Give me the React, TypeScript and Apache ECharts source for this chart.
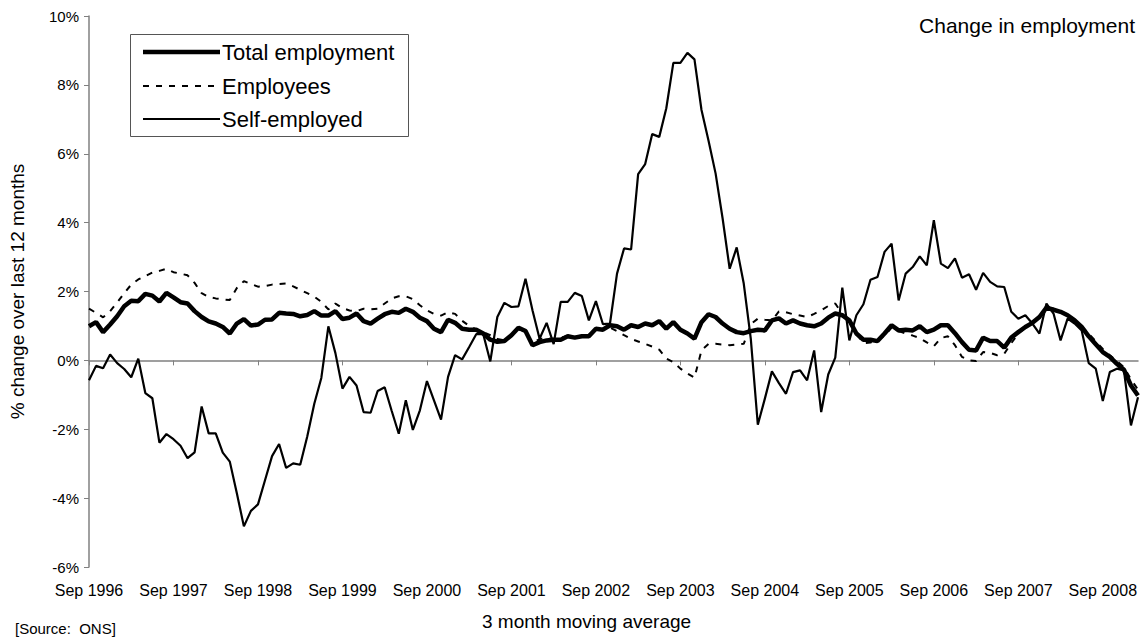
import React, { useEffect, useRef } from "react";
import * as echarts from "echarts";

const MONTHS = ["Jan", "Feb", "Mar", "Apr", "May", "Jun", "Jul", "Aug", "Sep", "Oct", "Nov", "Dec"];
const START_YEAR = 1996;
const START_MONTH = 8; // Sep
const N_POINTS = 150; // Sep 1996 .. Feb 2009

const categories: string[] = [];
for (let k = 0; k < N_POINTS; k++) {
  const m = (START_MONTH + k) % 12;
  const y = START_YEAR + Math.floor((START_MONTH + k) / 12);
  categories.push(`${MONTHS[m]} ${y}`);
}

const seriesNames = ["Total employment", "Employees", "Self-employed"];

const totalEmployment = [
  0.99, 1.11, 0.82, 1.04, 1.28, 1.57, 1.73, 1.72, 1.93, 1.88,
  1.71, 1.96, 1.83, 1.69, 1.65, 1.43, 1.26, 1.13, 1.07, 0.97,
  0.78, 1.07, 1.20, 1.01, 1.04, 1.18, 1.19, 1.38, 1.36, 1.35,
  1.28, 1.32, 1.43, 1.30, 1.30, 1.43, 1.20, 1.24, 1.36, 1.14,
  1.07, 1.21, 1.34, 1.41, 1.38, 1.50, 1.41, 1.24, 1.14, 0.92,
  0.82, 1.18, 1.09, 0.92, 0.89, 0.89, 0.78, 0.60, 0.54, 0.56,
  0.73, 0.95, 0.85, 0.44, 0.53, 0.58, 0.60, 0.60, 0.70, 0.66,
  0.70, 0.70, 0.92, 0.89, 1.02, 0.99, 0.89, 1.02, 0.97, 1.07,
  1.02, 1.14, 0.92, 1.11, 0.89, 0.78, 0.63, 1.11, 1.34, 1.26,
  1.07, 0.92, 0.82, 0.79, 0.85, 0.89, 0.87, 1.16, 1.22, 1.07,
  1.16, 1.07, 1.02, 0.99, 1.07, 1.24, 1.36, 1.31, 1.16, 0.78,
  0.60, 0.60, 0.56, 0.78, 1.02, 0.87, 0.89, 0.87, 0.99, 0.82,
  0.89, 1.02, 1.02, 0.79, 0.53, 0.31, 0.29, 0.66, 0.56, 0.56,
  0.37, 0.66, 0.82, 0.97, 1.09, 1.26, 1.53, 1.47, 1.41, 1.31,
  1.16, 0.97, 0.70, 0.47, 0.24, 0.10, -0.10, -0.27, -0.73, -1.02,
];

const employees = [
  1.50, 1.38, 1.25, 1.43, 1.68, 1.95, 2.20, 2.35, 2.45, 2.55,
  2.60, 2.66, 2.56, 2.52, 2.47, 2.25, 1.95, 1.84, 1.80, 1.77,
  1.75, 2.10, 2.30, 2.22, 2.14, 2.16, 2.20, 2.22, 2.23, 2.15,
  2.05, 1.95, 1.85, 1.70, 1.48, 1.65, 1.52, 1.45, 1.43, 1.50,
  1.48, 1.50, 1.65, 1.80, 1.86, 1.86, 1.78, 1.60, 1.45, 1.35,
  1.30, 1.40, 1.35, 1.15, 1.00, 0.90, 0.82, 0.73, 0.62, 0.58,
  0.70, 0.90, 0.85, 0.50, 0.62, 0.64, 0.62, 0.65, 0.72, 0.68,
  0.72, 0.74, 0.90, 0.88, 0.95, 0.85, 0.73, 0.62, 0.55, 0.48,
  0.40, 0.31, 0.05, -0.05, -0.24, -0.38, -0.50, 0.29, 0.48, 0.48,
  0.46, 0.44, 0.46, 0.48, 1.05, 1.21, 1.18, 1.16, 1.42, 1.40,
  1.34, 1.30, 1.26, 1.35, 1.45, 1.58, 1.65, 1.35, 1.10, 0.78,
  0.50, 0.52, 0.58, 0.72, 0.95, 0.85, 0.78, 0.72, 0.65, 0.52,
  0.41, 0.65, 0.70, 0.44, 0.10, 0.00, -0.02, 0.24, 0.22, 0.15,
  0.19, 0.50, 0.78, 0.95, 1.10, 1.28, 1.55, 1.50, 1.43, 1.33,
  1.18, 0.98, 0.78, 0.55, 0.33, 0.15, -0.02, -0.20, -0.55, -0.85,
];

const selfEmployed = [
  -0.58, -0.16, -0.23, 0.17, -0.08, -0.25, -0.49, 0.05, -0.95, -1.10,
  -2.39, -2.14, -2.29, -2.48, -2.84, -2.67, -1.34, -2.12, -2.12, -2.68,
  -2.94, -3.86, -4.82, -4.37, -4.18, -3.48, -2.78, -2.43, -3.12, -2.99,
  -3.03, -2.21, -1.26, -0.51, 0.99, 0.21, -0.82, -0.48, -0.73, -1.50,
  -1.52, -0.89, -0.78, -1.47, -2.13, -1.16, -2.02, -1.45, -0.60, -1.16,
  -1.72, -0.48, 0.15, 0.03, 0.39, 0.76, 0.76, -0.03, 1.26, 1.67,
  1.55, 1.57, 2.37, 1.45, 0.63, 1.09, 0.47, 1.70, 1.70, 1.96,
  1.87, 1.16, 1.72, 1.05, 1.07, 2.52, 3.25, 3.22, 5.41, 5.70,
  6.57, 6.49, 7.32, 8.64, 8.64, 8.93, 8.74, 7.27, 6.38, 5.43,
  4.12, 2.66, 3.28, 2.23, 0.63, -1.87, -1.11, -0.32, -0.66, -0.97,
  -0.34, -0.29, -0.58, 0.29, -1.50, -0.41, 0.08, 2.11, 0.58, 1.31,
  1.63, 2.34, 2.42, 3.15, 3.39, 1.74, 2.52, 2.71, 3.02, 2.76,
  4.07, 2.81, 2.68, 2.96, 2.40, 2.50, 2.05, 2.54, 2.28, 2.15,
  2.13, 1.41, 1.21, 1.31, 1.07, 0.78, 1.65, 1.36, 0.58, 1.21,
  1.07, 0.87, -0.08, -0.24, -1.18, -0.34, -0.24, -0.29, -1.89, -1.07,
];

const yTicks = { min: -6, max: 10, interval: 2 };

const FONT = "'Liberation Sans', Arial, sans-serif";

const LINE_STYLES = [
  { color: "#000", width: 4.5, type: "solid" as any },
  { color: "#000", width: 2, type: [6, 7] as any },
  { color: "#000", width: 2.2, type: "solid" as any },
];

export default function App() {
  const ref = useRef<HTMLDivElement>(null);
  useEffect(() => {
    if (!ref.current) return;
    const chart = echarts.init(ref.current, undefined, { renderer: "svg" });
    const showEvery12 = (index: number) => index % 12 === 0;

    const legendRowsY = [52, 86, 119];
    const legendChildren: any[] = [
      {
        type: "rect",
        shape: { x: 130.5, y: 34.5, width: 278, height: 102 },
        style: { fill: "#fff", stroke: "#555", lineWidth: 1 },
      },
    ];
    seriesNames.forEach((name, i) => {
      const ls = LINE_STYLES[i];
      legendChildren.push({
        type: "line",
        shape: { x1: 143, y1: legendRowsY[i], x2: 220, y2: legendRowsY[i] },
        style: {
          stroke: ls.color,
          lineWidth: ls.width,
          lineDash: Array.isArray(ls.type) ? ls.type : null,
        },
      });
      legendChildren.push({
        type: "text",
        x: 222,
        y: legendRowsY[i],
        style: {
          text: name,
          font: `22px ${FONT}`,
          fill: "#000",
          textVerticalAlign: "middle",
          verticalAlign: "middle",
        },
      });
    });

    chart.setOption({
      animation: false,
      backgroundColor: "#ffffff",
      textStyle: { fontFamily: FONT, color: "#000" },
      grid: { left: 85, right: 5, top: 16, bottom: 70, containLabel: false },
      xAxis: {
        type: "category",
        data: categories,
        boundaryGap: false,
        axisLine: { lineStyle: { color: "#808080", width: 1.5 } },
        axisTick: { show: true, interval: showEvery12, length: 5, lineStyle: { color: "#808080" } },
        axisLabel: {
          interval: showEvery12,
          margin: 15,
          fontSize: 16,
          fontFamily: FONT,
          color: "#000",
        },
        splitLine: { show: false },
      },
      yAxis: {
        type: "value",
        min: yTicks.min,
        max: yTicks.max,
        interval: yTicks.interval,
        name: "% change over last 12 months",
        nameLocation: "middle",
        nameGap: 62,
        nameTextStyle: { fontSize: 19, fontFamily: FONT, color: "#000" },
        axisLine: { show: true, lineStyle: { color: "#808080", width: 1.5 } },
        axisTick: { show: true, length: 5, lineStyle: { color: "#808080" } },
        axisLabel: { formatter: "{value}%", fontSize: 15, fontFamily: FONT, color: "#000", margin: 10 },
        splitLine: { show: false },
      },
      series: [
        {
          name: seriesNames[0],
          type: "line",
          data: totalEmployment,
          showSymbol: false,
          symbol: "none",
          z: 4,
          lineStyle: LINE_STYLES[0],
        },
        {
          name: seriesNames[1],
          type: "line",
          data: employees,
          showSymbol: false,
          symbol: "none",
          z: 3,
          lineStyle: LINE_STYLES[1],
        },
        {
          name: seriesNames[2],
          type: "line",
          data: selfEmployed,
          showSymbol: false,
          symbol: "none",
          z: 2,
          lineStyle: LINE_STYLES[2],
        },
      ],
      graphic: [
        { type: "group", z: 10, children: legendChildren },
        {
          type: "text",
          right: 8,
          top: 15,
          style: { text: "Change in employment", font: `21px ${FONT}`, fill: "#000" },
        },
        {
          type: "text",
          left: 482,
          top: 612,
          style: { text: "3 month moving average", font: `19px ${FONT}`, fill: "#000" },
        },
        {
          type: "text",
          left: 15,
          top: 621,
          style: { text: "[Source:  ONS]", font: `15px ${FONT}`, fill: "#000" },
        },
      ],
    });
    return () => chart.dispose();
  }, []);
  return (
    <div
      ref={ref}
      style={{ position: "absolute", left: 0, top: 0, width: 1143, height: 637, background: "#fff" }}
    />
  );
}
